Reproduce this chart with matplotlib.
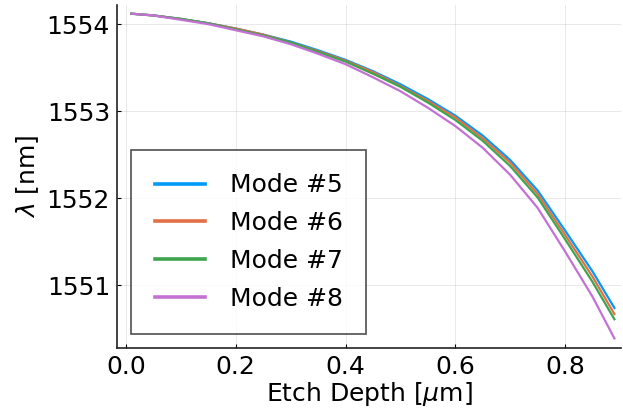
import matplotlib
matplotlib.use("Agg")
import matplotlib.pyplot as plt

# etch depth [um] and resonance wavelength [nm] per mode
depth = [0.01, 0.05, 0.10, 0.15, 0.20, 0.25, 0.30, 0.35, 0.40, 0.45,
         0.50, 0.55, 0.60, 0.65, 0.70, 0.75, 0.80, 0.85, 0.89]

mode5 = [1554.12, 1554.10, 1554.06, 1554.01, 1553.95, 1553.88, 1553.80, 1553.70, 1553.59, 1553.46,
         1553.31, 1553.14, 1552.95, 1552.72, 1552.44, 1552.09, 1551.63, 1551.16, 1550.74]
mode6 = [1554.12, 1554.10, 1554.06, 1554.01, 1553.95, 1553.88, 1553.79, 1553.69, 1553.58, 1553.45,
         1553.29, 1553.12, 1552.93, 1552.69, 1552.41, 1552.05, 1551.58, 1551.10, 1550.67]
mode7 = [1554.12, 1554.10, 1554.06, 1554.01, 1553.94, 1553.87, 1553.79, 1553.68, 1553.57, 1553.43,
         1553.28, 1553.10, 1552.90, 1552.66, 1552.37, 1552.01, 1551.53, 1551.04, 1550.61]
mode8 = [1554.12, 1554.10, 1554.05, 1554.00, 1553.93, 1553.86, 1553.77, 1553.66, 1553.54, 1553.39,
         1553.23, 1553.04, 1552.83, 1552.58, 1552.27, 1551.89, 1551.39, 1550.87, 1550.39]

labels = ["Mode #5", "Mode #6", "Mode #7", "Mode #8"]
colors = ["#009AFA", "#E36F47", "#3EA44E", "#C371D2"]

xticks = [0.0, 0.2, 0.4, 0.6, 0.8]
yticks = [1551, 1552, 1553, 1554]

plt.rcParams["mathtext.fontset"] = "dejavusans"

fig = plt.figure(figsize=(6.23, 4.13), dpi=100)
ax = fig.add_axes([117 / 623, 65 / 413, 504 / 623, 343 / 413])

for ys, lab, col in zip([mode5, mode6, mode7, mode8], labels, colors):
    ax.plot(depth, ys, color=col, linewidth=1.6, label=lab)

ax.set_xlim(-0.0164, 0.902)
ax.set_ylim(1550.28, 1554.22)
ax.set_xticks(xticks)
ax.set_xticklabels([f"{t:.1f}" for t in xticks])
ax.set_yticks(yticks)
ax.set_yticklabels([str(t) for t in yticks])

ax.grid(True, color="#000000", alpha=0.1, linewidth=0.6)
for s in ["top", "right"]:
    ax.spines[s].set_visible(False)
for s in ["left", "bottom"]:
    ax.spines[s].set_linewidth(1.2)
    ax.spines[s].set_color("#222222")

ax.tick_params(direction="in", length=3, width=0.8, labelsize=18, pad=5)
ax.set_xlabel(r"Etch Depth [$\mu$m]", fontsize=18, labelpad=1)
ax.set_ylabel(r"$\lambda$ [nm]", fontsize=18, labelpad=4)

leg = ax.legend(loc="lower left", fontsize=18, frameon=True, fancybox=False,
                borderaxespad=0.55, handlelength=2.0, handletextpad=1.0,
                labelspacing=0.55, borderpad=0.95)
leg.get_frame().set_edgecolor("#222222")
leg.get_frame().set_linewidth(1.2)
for line in leg.get_lines():
    line.set_linewidth(2.6)

fig.savefig("out.png", dpi=100)
